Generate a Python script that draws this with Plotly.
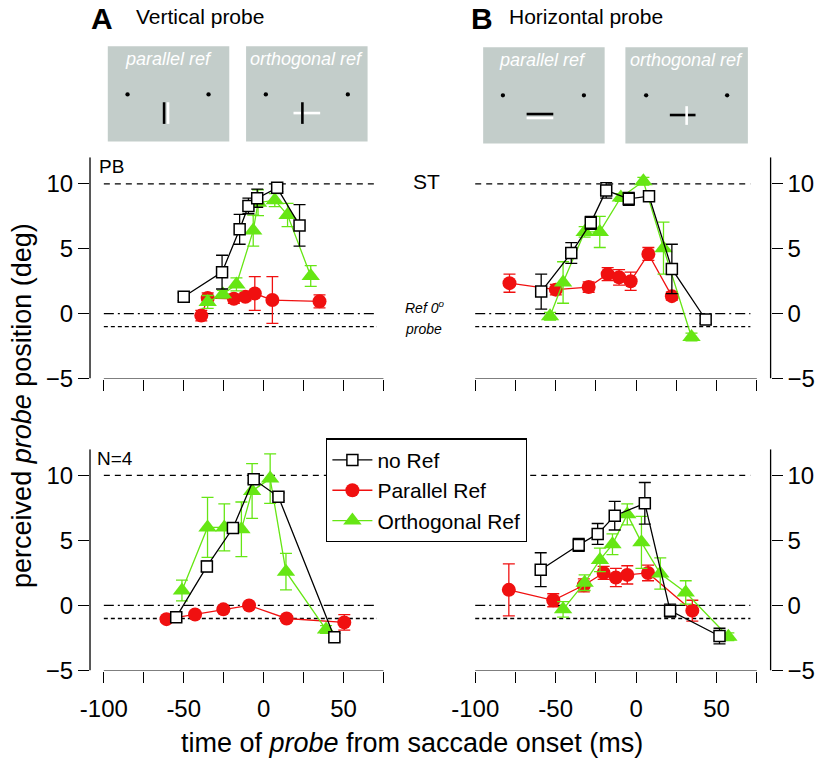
import plotly.graph_objects as go

W, H = 819, 773

# ---- data (time of probe in ms, perceived position in deg, SEM) ----
# panel A top: subject PB, vertical probe
pb_noref_t = [-50, -26, -15, -9.5, -4, 8.5, 22.5]
pb_noref_y = [1.3, 3.2, 6.5, 8.3, 8.9, 9.7, 6.8]
pb_noref_e = [0.3, 1.3, 1.15, 0.6, 0.7, 0.3, 1.6]
pb_par_t = [-39, -35, -18.6, -11.4, -5.5, 5.5, 35]
pb_par_y = [-0.15, 1.2, 1.15, 1.3, 1.55, 1.05, 0.95]
pb_par_e = [0.4, 0.4, 0.35, 0.3, 1.3, 1.8, 0.5]
pb_orth_t = [-35, -25.5, -17, -6.5, -3.5, 7, 15, 29.5]
pb_orth_y = [0.9, 1.5, 2.25, 6.4, 8.55, 8.75, 7.6, 2.9]
pb_orth_e = [0.5, 0.3, 0.5, 1.2, 1.0, 0.5, 0.9, 0.8]

# panel B top: subject ST, horizontal probe
st_noref_t = [-59, -40.3, -28.2, -18.6, -4.6, 8, 22.2, 43.2]
st_noref_y = [1.7, 4.67, 7.0, 9.5, 8.85, 9.05, 3.45, -0.45]
st_noref_e = [1.35, 0.8, 0.5, 0.6, 0.5, 0.3, 1.9, 0.3]
st_par_t = [-78.7, -49.9, -29.5, -17.7, -10.6, -3.4, 7.6, 22.2]
st_par_y = [2.35, 1.85, 2.05, 3.05, 2.8, 2.5, 4.6, 1.35]
st_par_e = [0.7, 0.4, 0.4, 0.5, 0.6, 0.7, 0.5, 0.3]
st_orth_t = [-53.5, -45.4, -32, -22.6, -9.5, 4.5, 17, 34.4]
st_orth_y = [-0.2, 2.4, 6.3, 6.3, 8.95, 10.2, 5.05, -1.8]
st_orth_e = [0.3, 1.6, 0.4, 1.2, 0.3, 0.3, 2.0, 0.3]

# panel A bottom: N=4, vertical probe
va_noref_t = [-54.7, -35.5, -19.2, -6.2, 9.3, 44.3]
va_noref_y = [-0.9, 3.0, 5.95, 9.7, 8.35, -2.45]
va_noref_e = [0.3, 0.4, 0.4, 0.3, 0.3, 0.3]
va_par_t = [-60.8, -42.9, -25.2, -9.1, 14.4, 50.5]
va_par_y = [-1.05, -0.7, -0.3, 0.0, -1.0, -1.3]
va_par_e = [0.2, 0.2, 0.2, 0.2, 0.2, 0.6]
va_orth_t = [-51.1, -35.1, -24.6, -13.9, -7.2, 4.1, 14, 39.1]
va_orth_y = [1.15, 6.0, 6.0, 5.85, 8.8, 9.75, 2.6, -1.85]
va_orth_e = [0.8, 2.3, 1.8, 2.1, 2.1, 1.9, 1.4, 0.3]

# panel B bottom: N=4, horizontal probe
ha_noref_t = [-59.3, -35.7, -23.9, -13.3, 5.4, 21.1, 51.8]
ha_noref_y = [2.75, 4.65, 5.5, 6.9, 7.85, -0.4, -2.35]
ha_noref_e = [1.3, 0.5, 0.8, 1.1, 1.6, 0.5, 0.6]
ha_par_t = [-79.1, -51.5, -32.5, -20.2, -12.6, -5.5, 7.4, 34.9]
ha_par_y = [1.2, 0.4, 1.55, 2.5, 2.15, 2.35, 2.5, -0.4]
ha_par_e = [2.0, 0.5, 0.5, 0.5, 0.7, 0.7, 0.6, 0.8]
ha_orth_t = [-45.4, -32, -22.5, -14.7, -5.5, 3.3, 15, 30.8, 57.3]
ha_orth_y = [-0.3, 1.75, 3.5, 4.7, 7.0, 4.85, 2.45, 1.0, -2.4]
ha_orth_e = [0.6, 0.6, 0.9, 0.8, 0.8, 2.0, 1.2, 0.9, 0.3]

ref_levels = [10, 0, -1]            # saccade target, reference, probe
ref_dash = ['6px,5px', '10px,4px,2px,4px', '4px,3px']
line_span = [-100, 71]

x_tickvals = [-100, -50, 0, 50]
x_ticktext = ['-100', '-50', '0', '50']
x_minorvals = [-75, -25, 25, 75]
y_tickvals = [-5, 0, 5, 10]

BLACK, RED, GREEN = '#000000', '#f01010', '#66e614'
FONT = 'Liberation Sans, Arial, sans-serif'


def px(x):
    return x / W


def py(y):
    return 1 - y / H


fig = go.Figure()

panels = [
    # suffix, data, x pixel domain, y pixel domain, x range, y range, y side, x labels
    ('', (pb_noref_t, pb_noref_y, pb_noref_e, pb_par_t, pb_par_y, pb_par_e, pb_orth_t, pb_orth_y, pb_orth_e),
     (81, 390), (160, 385), (-108.66, 82.4), (-5, 12.05), 'left', False),
    ('2', (st_noref_t, st_noref_y, st_noref_e, st_par_t, st_par_y, st_par_e, st_orth_t, st_orth_y, st_orth_e),
     (440, 770), (160, 385), (-119.0, 83.55), (-5, 12.05), 'right', False),
    ('3', (va_noref_t, va_noref_y, va_noref_e, va_par_t, va_par_y, va_par_e, va_orth_t, va_orth_y, va_orth_e),
     (81, 390), (457, 682), (-108.66, 82.4), (-5, 12.0), 'left', True),
    ('4', (ha_noref_t, ha_noref_y, ha_noref_e, ha_par_t, ha_par_y, ha_par_e, ha_orth_t, ha_orth_y, ha_orth_e),
     (440, 770), (457, 682), (-119.0, 83.55), (-5, 12.0), 'right', True),
]

shapes = []
for k, (sfx, d, xd, yd, xr, yr, side, labels) in enumerate(panels):
    xa, ya = 'x' + sfx, 'y' + sfx
    nt, ny, ne, pt, pyy, pe, ot, oy, oe = d
    show = (k == 2)
    # reference lines
    for lvl, dash in zip(ref_levels, ref_dash):
        fig.add_trace(go.Scatter(x=line_span, y=[lvl, lvl], mode='lines', xaxis=xa, yaxis=ya,
                                 line=dict(color='black', width=1.3, dash=dash),
                                 showlegend=False, hoverinfo='skip'))
    fig.add_trace(go.Scatter(
        x=pt, y=pyy, mode='lines+markers', xaxis=xa, yaxis=ya, name='Parallel Ref',
        legendrank=2, showlegend=show,
        line=dict(color=RED, width=1.3),
        marker=dict(symbol='circle', size=14, color=RED),
        error_y=dict(type='data', array=pe, color=RED, thickness=1.3, width=6)))
    fig.add_trace(go.Scatter(
        x=ot, y=oy, mode='lines+markers', xaxis=xa, yaxis=ya, name='Orthogonal Ref',
        legendrank=3, showlegend=show,
        line=dict(color=GREEN, width=1.3),
        marker=dict(symbol='triangle-up', size=16, color=GREEN),
        error_y=dict(type='data', array=oe, color=GREEN, thickness=1.3, width=6)))
    fig.add_trace(go.Scatter(
        x=nt, y=ny, mode='lines+markers', xaxis=xa, yaxis=ya, name='no Ref',
        legendrank=1, showlegend=show,
        line=dict(color=BLACK, width=1.3),
        marker=dict(symbol='square', size=11, color='white', line=dict(color=BLACK, width=1.5)),
        error_y=dict(type='data', array=ne, color=BLACK, thickness=1.3, width=6)))

    lay_x = 'xaxis' + sfx
    lay_y = 'yaxis' + sfx
    fig.layout[lay_x] = dict(
        domain=[px(xd[0]), px(xd[1])], range=list(xr), anchor=ya,
        showgrid=False, zeroline=False, showline=False,
        tickmode='array', tickvals=x_tickvals, ticktext=x_ticktext,
        showticklabels=labels, ticks='outside', ticklen=11, tickwidth=1.3, tickcolor='black',
        minor=dict(tickmode='array', tickvals=x_minorvals, ticks='outside', ticklen=11,
                   tickwidth=1.3, tickcolor='black', showgrid=False),
        ticklabelstandoff=6,
        tickfont=dict(size=24, family=FONT, color='black'))
    fig.layout[lay_y] = dict(
        domain=[py(yd[1]), py(yd[0])], range=list(yr), anchor=xa, side=side,
        showgrid=False, zeroline=False, showline=False,
        tickmode='array', tickvals=y_tickvals,
        ticks='outside', ticklen=11, tickwidth=1.3, tickcolor='black',
        tickfont=dict(size=24, family=FONT, color='black'))
    # axis lines (offset style)
    shapes.append(dict(type='line', xref=xa, yref=ya, x0=-100, x1=75, y0=yr[0], y1=yr[0],
                       line=dict(color='black', width=1.3)))
    xdom = 0 if side == 'left' else 1
    shapes.append(dict(type='line', xref=xa + ' domain', yref=ya, x0=xdom, x1=xdom, y0=yr[0], y1=yr[1],
                       line=dict(color='black', width=1.3)))

# ---- stimulus icons ----
GRAY = '#c3cdca'
icon_boxes = [(99, 47, 222, 144), (239, 47, 362, 144), (479, 48, 602, 146), (623, 48, 747, 146)]
for (x0, y0, x1, y1) in icon_boxes:
    shapes.append(dict(type='rect', xref='paper', yref='paper', x0=px(x0), x1=px(x1), y0=py(y1), y1=py(y0),
                       fillcolor=GRAY, line=dict(width=0), layer='below'))
dots = [(119, 96), (201, 96), (259, 96), (342, 96), (499, 97), (581, 97), (644, 97), (726, 97)]
for (cx, cy) in dots:
    shapes.append(dict(type='circle', xref='paper', yref='paper', x0=px(cx - 2.2), x1=px(cx + 2.2),
                       y0=py(cy + 2.2), y1=py(cy - 2.2), fillcolor='black', line=dict(width=0)))
bars = [
    (160, 104, 160, 126, 'white'), (156, 104, 156, 126, 'black'),
    (287, 115, 314, 115, 'white'), (296, 104, 296, 126, 'black'),
    (523, 120, 550, 120, 'white'), (523, 116, 550, 116, 'black'),
    (668, 117, 694, 117, 'black'), (685, 108, 685, 127, 'white'),
]
for (x0, y0, x1, y1, c) in bars:
    shapes.append(dict(type='line', xref='paper', yref='paper', x0=px(x0), x1=px(x1), y0=py(y0), y1=py(y1),
                       line=dict(color=c, width=2.6)))

ann = []


def text(x, y, s, size, xanchor='left', color='black', angle=0):
    ann.append(dict(x=px(x), y=py(y), xref='paper', yref='paper', text=s, showarrow=False,
                    xanchor=xanchor, yanchor='middle', textangle=angle,
                    font=dict(size=size, family=FONT, color=color)))


text(80, 19, '<b>A</b>', 30)
text(126, 17, 'Vertical probe', 21)
text(465, 19, '<b>B</b>', 30)
text(503, 17, 'Horizontal probe', 21)
text(160.5, 60, '<i>parallel ref</i>', 18, 'center', 'white')
text(300.5, 60, '<i>orthogonal ref</i>', 18, 'center', 'white')
text(539, 61, '<i>parallel ref</i>', 18, 'center', 'white')
text(685, 61, '<i>orthogonal ref</i>', 18, 'center', 'white')
text(88, 169, 'PB', 19)
text(406, 185, 'ST', 21)
text(86, 466, 'N=4', 19)
text(420, 312, '<i>Ref 0<sup>o</sup></i>', 14, 'center')
text(419, 335, '<i>probe</i>', 14, 'center')
text(12, 412, 'perceived <i>probe</i> position (deg)', 27, 'center', angle=-90)
text(407, 756, 'time of <i>probe</i> from saccade onset (ms)', 27, 'center')

fig.update_layout(
    width=W, height=H, margin=dict(l=0, r=0, t=0, b=0),
    paper_bgcolor='white', plot_bgcolor='rgba(0,0,0,0)',
    shapes=shapes, annotations=ann,
    font=dict(family=FONT, color='black'),
    legend=dict(x=px(320), y=py(446), xanchor='left', yanchor='top',
                bgcolor='white', bordercolor='black', borderwidth=1.3,
                font=dict(size=21, family=FONT, color='black'),
                traceorder='normal', itemwidth=40),
    showlegend=True,
)

fig.write_html("out.html", config={'displayModeBar': False},
               post_script="document.body.style.margin='0px';")
